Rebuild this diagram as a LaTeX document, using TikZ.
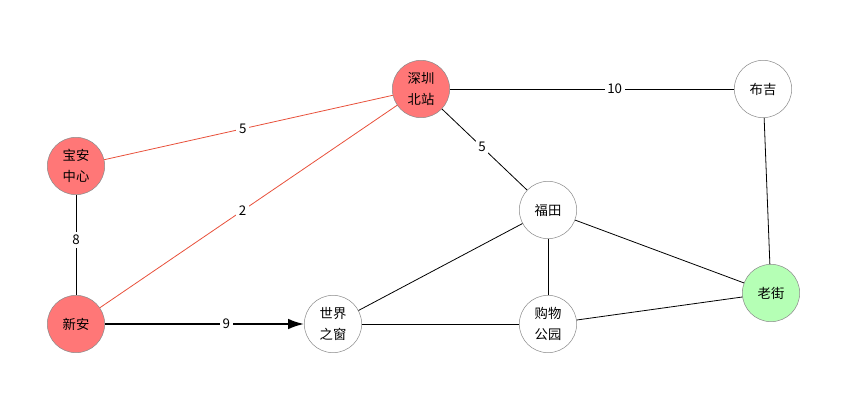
\documentclass[tikz,border=0pt]{standalone}
\usepackage{fontspec}
\setmainfont{Noto Sans CJK SC}
\usetikzlibrary{arrows.meta}

\definecolor{hotred}{HTML}{FF7777}
\definecolor{okgreen}{HTML}{B5FFB5}
\definecolor{redline}{HTML}{E8503A}

\begin{document}
\begin{tikzpicture}[>=Latex,x=0.75pt,y=-0.75pt]
\tikzstyle{station}=[draw=black!45, circle, minimum size=43pt, inner sep=0pt, align=center, font=\fontsize{10}{16}\selectfont]
\tikzstyle{hot}=[station, fill=hotred]
\tikzstyle{goal}=[station, fill=okgreen]
\tikzstyle{cost}=[fill=white, inner sep=2pt, font=\fontsize{10}{12}\selectfont]
\tikzstyle{link}=[draw=black, line width=0.6pt]
\tikzstyle{redlink}=[draw=redline, line width=0.6pt]

\useasboundingbox (0,0) rectangle (849,418);

% stations
\node[hot] (szbei) at (421,89) {深圳\\北站};
\node[station] (buji) at (763,89) {布吉};
\node[hot] (baoan) at (76,166) {宝安\\中心};
\node[station] (futian) at (548,210) {福田};
\node[goal] (laojie) at (771,293) {老街};
\node[hot] (xinan) at (76,324) {新安};
\node[station] (window) at (333,324) {世界\\之窗};
\node[station] (park) at (548,324) {购物\\公园};

% red path
\draw[redlink] (baoan) -- node[cost, pos=0.48] {5} (szbei);
\draw[redlink] (xinan) -- node[cost, pos=0.48] {2} (szbei);

% plain links
\draw[link] (baoan) -- node[cost, pos=0.45] {8} (xinan);
\draw[link] (szbei) -- node[cost, pos=0.58] {10} (buji);
\draw[link] (szbei) -- node[cost, pos=0.47] {5} (futian);
\draw[link] (buji) -- (laojie);
\draw[link] (futian) -- (window);
\draw[link] (futian) -- (park);
\draw[link] (futian) -- (laojie);
\draw[link] (window) -- (park);
\draw[link] (park) -- (laojie);

% current step
\draw[-{Latex[length=12pt,width=8pt]}, line width=1.5pt] (xinan) -- node[cost, pos=0.61] {9} (window);

\end{tikzpicture}
\end{document}
